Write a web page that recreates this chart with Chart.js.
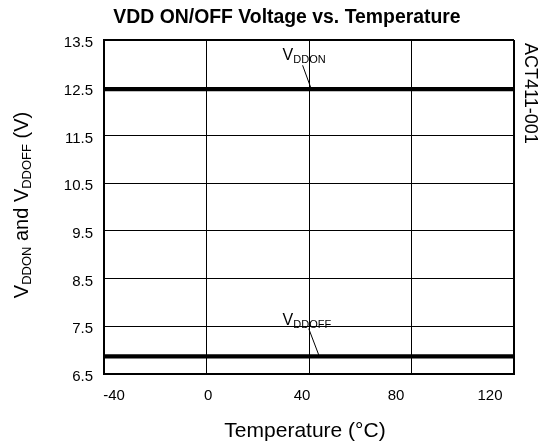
<!DOCTYPE html>
<html>
<head>
<meta charset="utf-8">
<script src="https://cdn.jsdelivr.net/npm/chart.js@4/dist/chart.umd.min.js"></script>
<style>
  body { margin: 0; background: #fff; }
  #wrap { width: 543px; height: 446px; }
</style>
</head>
<body>
<div id="wrap"><canvas id="vdd-chart" width="543" height="446"></canvas></div>
<script>
// Data
const temps = [-40, 0, 40, 80, 120];
const vddOn = [12.47, 12.47, 12.47, 12.47, 12.47];
const vddOff = [6.87, 6.87, 6.87, 6.87, 6.87];
const xTicks = [-40, 0, 40, 80, 120];
const yTicks = [6.5, 7.5, 8.5, 9.5, 10.5, 11.5, 12.5, 13.5];

// Curve labels: [text, subscript, x, y] in data units, plus leader lines
const curveLabels = [
    ['V', 'DDON', 29.7, 13.08],
    ['V', 'DDOFF', 29.7, 7.53]
];
const leaderOn = [{ x: 37.5, y: 12.97 }, { x: 40.7, y: 12.5 }];
const leaderOff = [{ x: 39.9, y: 7.45 }, { x: 43.8, y: 6.9 }];

const font = 'Liberation Sans, Arial, sans-serif';

function toPoints(xs, ys) {
    return xs.map((x, i) => ({ x: x, y: ys[i] }));
}

function drawSub(ctx, main, sub, x, y, size, subSize) {
    ctx.font = size + 'px ' + font;
    ctx.fillText(main, x, y);
    const w = ctx.measureText(main).width;
    ctx.font = subSize + 'px ' + font;
    ctx.fillText(sub, x + w, y + 3);
    return w + ctx.measureText(sub).width;
}

const textPlugin = {
    id: 'texts',
    afterDraw(chart) {
        const ctx = chart.ctx;
        const xs = chart.scales.x;
        const ys = chart.scales.y;
        ctx.save();
        ctx.fillStyle = '#000';
        ctx.textBaseline = 'alphabetic';

        // title
        ctx.font = 'bold 19.4px ' + font;
        ctx.textAlign = 'center';
        ctx.fillText('VDD ON/OFF Voltage vs. Temperature', 287, 23);

        // x title
        ctx.font = '21px ' + font;
        ctx.fillText('Temperature (°C)', 305, 437);

        // curve labels
        ctx.textAlign = 'left';
        curveLabels.forEach(l => {
            drawSub(ctx, l[0], l[1], xs.getPixelForValue(l[2]), ys.getPixelForValue(l[3]), 16, 11);
        });

        // y title with subscripts, rotated
        ctx.save();
        ctx.translate(28, 205);
        ctx.rotate(-Math.PI / 2);
        const parts = [['V', 'DDON'], [' and V', 'DDOFF'], [' (V)', '']];
        let total = 0;
        parts.forEach(p => {
            ctx.font = '20px ' + font;
            total += ctx.measureText(p[0]).width;
            ctx.font = '13px ' + font;
            total += ctx.measureText(p[1]).width;
        });
        let px = -total / 2;
        parts.forEach(p => {
            px += drawSub(ctx, p[0], p[1], px, 0, 20, 13);
        });
        ctx.restore();

        // part number at right
        ctx.save();
        ctx.translate(525, 43);
        ctx.rotate(Math.PI / 2);
        ctx.font = '18px ' + font;
        ctx.textAlign = 'left';
        ctx.fillText('ACT411-001', 0, 0);
        ctx.restore();

        ctx.restore();
    }
};

const ctx = document.getElementById('vdd-chart').getContext('2d');
const vddChart = new Chart(ctx, {
    type: 'scatter',
    data: {
        datasets: [
            { data: toPoints(temps, vddOn), showLine: true, borderColor: '#000', borderWidth: 4.3, pointRadius: 0 },
            { data: toPoints(temps, vddOff), showLine: true, borderColor: '#000', borderWidth: 4.3, pointRadius: 0 },
            { data: leaderOn, showLine: true, borderColor: '#000', borderWidth: 1, pointRadius: 0 },
            { data: leaderOff, showLine: true, borderColor: '#000', borderWidth: 1, pointRadius: 0 }
        ]
    },
    options: {
        responsive: false,
        animation: false,
        layout: { padding: { left: 0, top: 40, right: 29, bottom: 0 } },
        plugins: {
            legend: { display: false },
            tooltip: { enabled: false },
            title: { display: false }
        },
        scales: {
            x: {
                type: 'linear',
                min: -40,
                max: 120,
                afterFit: s => { s.height = 0; },
                afterBuildTicks: s => { s.ticks = xTicks.map(v => ({ value: v })); },
                grid: {
                    color: '#000',
                    drawTicks: false,
                    lineWidth: c => (c.tick && (c.tick.value === 120) ? 2 : 1)
                },
                border: { color: '#000', width: 2 },
                ticks: { display: false }
            },
            // tick labels of the temperature axis sit a little off the grid in the original
            xt: {
                type: 'linear',
                position: 'bottom',
                min: -44.3,
                max: 130.2,
                afterFit: s => { s.height = 72; },
                afterBuildTicks: s => { s.ticks = xTicks.map(v => ({ value: v })); },
                grid: { display: false, drawTicks: false },
                border: { display: false },
                ticks: { color: '#000', font: { family: font, size: 15 }, padding: 13 }
            },
            y: {
                type: 'linear',
                min: 6.5,
                max: 13.5,
                afterFit: s => { s.width = 104; },
                afterBuildTicks: s => { s.ticks = yTicks.map(v => ({ value: v })); },
                grid: {
                    color: '#000',
                    drawTicks: false,
                    lineWidth: c => (c.tick && (c.tick.value === 13.5) ? 2 : 1)
                },
                border: { color: '#000', width: 2 },
                ticks: {
                    color: '#000',
                    font: { family: font, size: 15 },
                    padding: 11,
                    labelOffset: 3,
                    callback: v => v.toFixed(1)
                }
            }
        }
    },
    plugins: [textPlugin]
});
</script>
</body>
</html>
